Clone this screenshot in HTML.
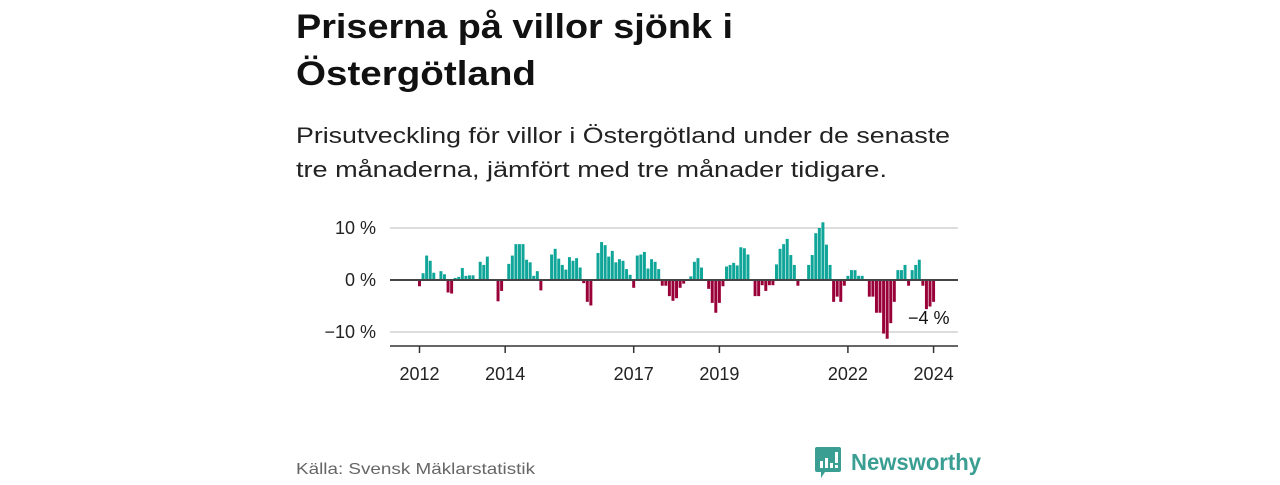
<!DOCTYPE html>
<html><head><meta charset="utf-8"><style>
body{margin:0;width:1280px;height:480px;background:#fff;overflow:hidden;font-family:"Liberation Sans",sans-serif}
</style></head><body>
<svg width="1280" height="480" xmlns="http://www.w3.org/2000/svg">
<text x="296" y="38" font-size="34" font-weight="bold" fill="#111" textLength="437" lengthAdjust="spacingAndGlyphs">Priserna på villor sjönk i</text>
<text x="296" y="85" font-size="34" font-weight="bold" fill="#111" textLength="240" lengthAdjust="spacingAndGlyphs">Östergötland</text>
<text x="296" y="143" font-size="22" fill="#222" textLength="654" lengthAdjust="spacingAndGlyphs">Prisutveckling för villor i Östergötland under de senaste</text>
<text x="296" y="177" font-size="22" fill="#222" textLength="591" lengthAdjust="spacingAndGlyphs">tre månaderna, jämfört med tre månader tidigare.</text>
<g id="grid"></g>
<g id="bars"></g>
<g id="axis"></g>
<text x="908" y="324" font-size="18" fill="#111">−4 %</text>
<text x="296" y="474" font-size="16" fill="#666" textLength="239" lengthAdjust="spacingAndGlyphs">Källa: Svensk Mäklarstatistik</text>
<g>
<path d="M817 447h22a2 2 0 0 1 2 2v21a2 2 0 0 1-2 2h-14l-4 6v-6h-4a2 2 0 0 1-2-2v-21a2 2 0 0 1 2-2z" fill="#3a9e92"/>
<rect x="820" y="461" width="3" height="7" fill="#fff"/><rect x="825" y="458" width="3" height="10" fill="#fff"/><rect x="830" y="463" width="3" height="5" fill="#fff"/><rect x="835" y="452" width="3" height="11" fill="#fff"/><rect x="835" y="465" width="3" height="3" fill="#fff"/>
<text x="851" y="470" font-size="23" font-weight="bold" fill="#3a9e92" textLength="130" lengthAdjust="spacingAndGlyphs">Newsworthy</text>
</g>
</svg>
<script>
const values=[-1.2,1.3,4.7,3.7,1.4,0,1.7,1.1,-2.4,-2.6,0.4,0.6,2.3,0.8,0.9,0.9,0,3.5,2.9,4.5,0,0,-4.1,-2.1,0,3.1,4.7,6.9,6.9,6.9,3.9,3.4,0.8,1.7,-2.0,0,0,4.9,6.0,4.1,2.9,2.0,4.4,3.7,4.2,2.4,-0.6,-4.2,-4.9,0,5.2,7.3,6.7,4.5,5.6,3.4,4.0,3.7,2.1,1.0,-1.5,4.7,4.9,5.4,2.2,4.0,3.5,2.1,-1.1,-1.1,-3.1,-4.0,-3.5,-1.5,-0.7,0,0.7,3.5,4.2,2.4,0,-1.7,-4.4,-6.3,-4.4,-1.2,2.6,2.9,3.3,2.8,6.3,6.1,4.9,0,-3.1,-3.1,-1.0,-2.1,-1.0,-1.0,3.0,6.0,6.9,7.9,4.8,2.9,-1.1,0,0,2.9,4.8,9.0,10.0,11.1,6.8,2.9,-4.2,-3.2,-4.2,-1.1,0.8,1.9,1.9,0.8,0.8,0,-3.2,-3.2,-6.3,-6.3,-10.3,-11.3,-8.3,-4.2,1.9,1.9,2.9,-1.1,1.9,2.9,3.9,-1.1,-5.6,-5.1,-4.2];
const startYear=2012;
const yTicks=[10,0,-10];
const yTickLabels=["10 %","0 %","−10 %"];
const xTickYears=[2012,2014,2017,2019,2022,2024];
const NS="http://www.w3.org/2000/svg";
const x0=419.5,mw=3.57,x=i=>x0+i*mw;
const y=v=>280-v*5.2;
function mk(t,a,p){const e=document.createElementNS(NS,t);for(const k in a)e.setAttribute(k,a[k]);p.appendChild(e);return e;}
const grid=document.getElementById('grid'),bars=document.getElementById('bars'),axis=document.getElementById('axis');
yTicks.forEach((t,i)=>{
 const l=mk('line',{x1:390,x2:958,y1:y(t),y2:y(t),stroke:'#ddd','stroke-width':2},grid);
 
 
 const tx=mk('text',{x:376,y:y(t)+6,'text-anchor':'end','font-size':18,fill:'#222','font-family':'Liberation Sans, sans-serif'},grid);
 tx.textContent=yTickLabels[i];
 
 
});
values.forEach((v,i)=>{
 if(v===0)return;
 const r=mk('rect',{x:x(i)-mw/2+0.3,width:mw-0.6,y:Math.min(y(v),y(0)),height:Math.abs(y(v)-y(0)),fill:v>0?'#0fa598':'#9a0038'},bars);
 
 
});
const z=mk('line',{x1:390,x2:958,y1:y(0),y2:y(0),stroke:'#444','stroke-width':2},axis);


const xa=mk('line',{x1:390,x2:958,y1:346,y2:346,stroke:'#333','stroke-width':1.5},axis);


xTickYears.forEach(yr=>{
 const px=x((yr-startYear)*12);
 const t=mk('line',{x1:px,x2:px,y1:346,y2:353,stroke:'#333','stroke-width':1.5},axis);
 
 
 const tx=mk('text',{x:px,y:380,'text-anchor':'middle','font-size':18,fill:'#222','font-family':'Liberation Sans, sans-serif'},axis);
 tx.textContent=yr;
 
 
});
</script>
</body></html>
